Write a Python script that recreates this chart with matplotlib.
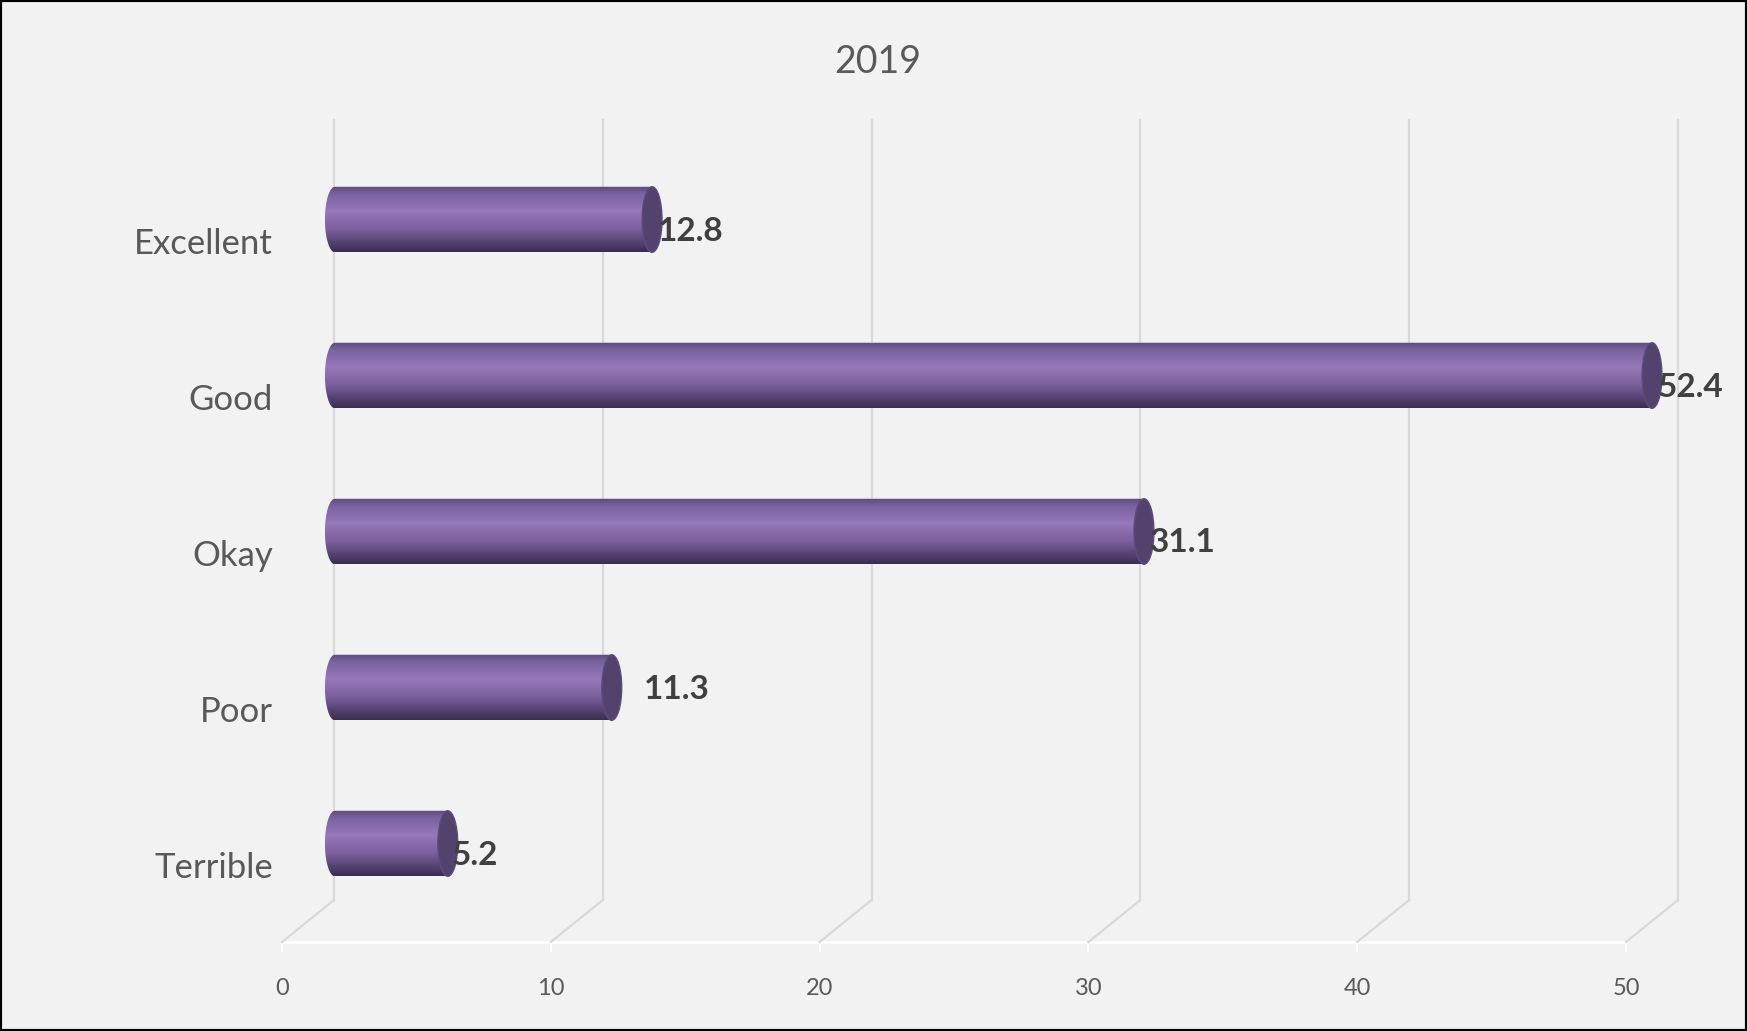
import matplotlib.pyplot as plt
import numpy as np
from matplotlib.colors import LinearSegmentedColormap
from matplotlib.patches import Ellipse, PathPatch, Rectangle
from matplotlib.path import Path
from matplotlib.lines import Line2D

# data
categories = ['Excellent', 'Good', 'Okay', 'Poor', 'Terrible']
values = [12.8, 52.4, 31.1, 11.3, 5.2]
ticks = [0, 10, 20, 30, 40, 50]
title = '2019'

# value label nudges (pixels)
lab_dx = [6, 6, 6, 32, 4]
lab_dy = [12, 12, 11, 2, 12]

W, H = 1747, 1031
xmax = 50
grid_c = '#d9d9d9'
text_c = '#595959'

plt.rcParams['font.family'] = ['Lato', 'DejaVu Sans']

fig = plt.figure(figsize=(W / 100, H / 100), dpi=100, facecolor='#f2f2f2')


def box(x0, y0, x1, y1):
    # pixel box (top-left origin) -> figure fraction
    return [x0 / W, 1 - y1 / H, (x1 - x0) / W, (y1 - y0) / H]


def clean(ax):
    for s in ax.spines.values():
        s.set_visible(False)
    ax.patch.set_visible(False)
    ax.set_yticks([])


# back wall with vertical gridlines
ax_back = fig.add_axes(box(334, 120, 1678, 900))
ax_back.set_xlim(0, xmax)
ax_back.set_ylim(0, 1)
clean(ax_back)
ax_back.set_xticks([])
for t in ticks:
    ax_back.axvline(t, color=grid_c, lw=1.6, clip_on=False)

# front axis (value axis on the floor edge)
ax_front = fig.add_axes(box(282, 940, 1626, 942))
ax_front.set_xlim(0, xmax)
clean(ax_front)
ax_front.spines['bottom'].set_visible(True)
ax_front.spines['bottom'].set_color('white')
ax_front.spines['bottom'].set_linewidth(2)
ax_front.set_xticks(ticks)
ax_front.tick_params(axis='x', colors='white', length=7, width=1.5, pad=19,
                     labelcolor=text_c, labelsize=17)

# floor diagonals joining back wall and front axis
to_fig = fig.transFigure.inverted()
for t in ticks:
    p1 = to_fig.transform(ax_back.get_xaxis_transform().transform((t, 0)))
    p2 = to_fig.transform(ax_front.get_xaxis_transform().transform((t, 0)))
    fig.add_artist(Line2D([p1[0], p2[0]], [p1[1], p2[1]], color=grid_c, lw=1.6,
                          transform=fig.transFigure))

# bars (mid depth plane)
ax = fig.add_axes(box(308, 120, 1652, 900))
ax.set_xlim(0, xmax)
ax.set_ylim(4.362, -0.638)
clean(ax)
ax.set_xticks([])

cmap = LinearSegmentedColormap.from_list('cyl', [
    (0.0, '#5c4a7c'), (0.12, '#7a63a0'), (0.38, '#9678b8'),
    (0.65, '#7b609d'), (0.9, '#4c3b67'), (1.0, '#3a2c50')])
grad = np.linspace(0, 1, 256).reshape(-1, 1)

base = 1.0     # where the cylinder body starts
half_w = 0.37  # half width of end ellipse (x units)
half_h = 0.21  # half height of cylinder (category units)

for i, (cat, v) in enumerate(zip(categories, values)):
    end = min(v, xmax)
    th = np.linspace(np.pi / 2, 3 * np.pi / 2, 60)
    xs = list(base + half_w * np.cos(th)) + [end, end]
    ys = list(i - half_h * np.sin(th)) + [i + half_h, i - half_h]
    verts = list(zip(xs, ys)) + [(xs[0], ys[0])]
    codes = [Path.MOVETO] + [Path.LINETO] * (len(verts) - 2) + [Path.CLOSEPOLY]
    clip = PathPatch(Path(verts, codes), fc='none', ec='none')
    ax.add_patch(clip)
    im = ax.imshow(grad, cmap=cmap, aspect='auto', origin='upper',
                   extent=(base - half_w, end, i + half_h, i - half_h), zorder=2)
    im.set_clip_path(clip)
    ax.add_patch(Ellipse((end, i), 2 * half_w, 2 * half_h, fc='#53416e',
                         ec='#5f4b7d', lw=1, zorder=3, clip_on=False))

    ax.annotate(f'{v}', xy=(end + half_w, i), xytext=(lab_dx[i] - 10, -lab_dy[i]),
                textcoords='offset pixels', ha='left', va='center',
                fontsize=24, fontweight='bold', color='#404040', zorder=4,
                annotation_clip=False)
    ax.annotate(cat, xy=(0, i), xytext=(-35, -24), textcoords='offset pixels',
                ha='right', va='center', fontsize=25, color=text_c,
                annotation_clip=False)

ax.set_xlim(0, xmax)
ax.set_ylim(4.362, -0.638)

fig.text(878 / W, 1 - 62 / H, title, ha='center', va='center', fontsize=27, color=text_c)

fig.add_artist(Rectangle((0, 0), 1, 1, transform=fig.transFigure, fill=False,
                         ec='black', lw=3))

fig.savefig('out.png', dpi=100, facecolor=fig.get_facecolor())
